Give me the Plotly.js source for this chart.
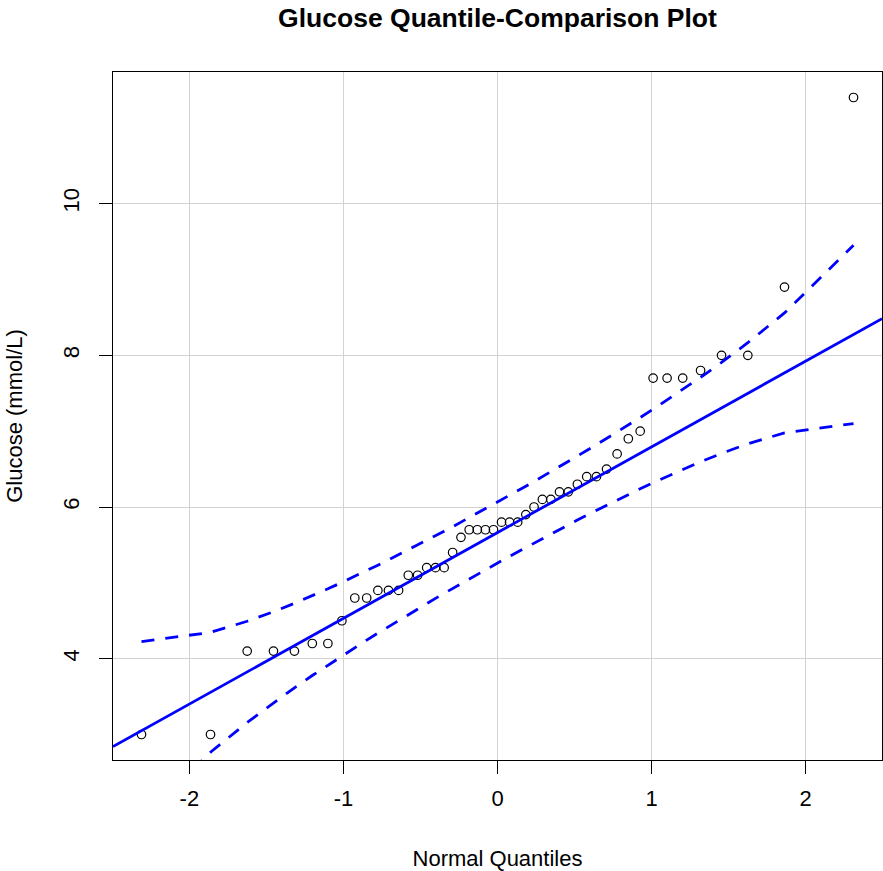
<!DOCTYPE html>
<html>
<head>
<meta charset="utf-8">
<script src="https://cdn.plot.ly/plotly-3.0.1.min.js"></script>
<style>html,body{margin:0;padding:0;background:#fff;}#chart{width:883px;height:871px;}</style>
</head>
<body>
<div id="chart"></div>
<script>
// Normal quantiles (x) and sorted glucose values (y)
const normalQuantiles = [-2.3107,-1.8627,-1.6247,-1.4541,-1.3180,-1.2021,-1.1008,-1.0100,-0.9262,-0.8490,-0.7764,-0.7077,-0.6420,-0.5791,-0.5184,-0.4595,-0.4023,-0.3463,-0.2913,-0.2371,-0.1838,-0.1309,-0.0784,-0.0261,0.0261,0.0784,0.1309,0.1838,0.2371,0.2913,0.3463,0.4023,0.4595,0.5184,0.5791,0.6420,0.7077,0.7764,0.8490,0.9262,1.0100,1.1008,1.2021,1.3180,1.4541,1.6247,1.8627,2.3107];
const glucose = [3.0,3.0,4.1,4.1,4.1,4.2,4.2,4.5,4.8,4.8,4.9,4.9,4.9,5.1,5.1,5.2,5.2,5.2,5.4,5.6,5.7,5.7,5.7,5.7,5.8,5.8,5.8,5.9,6.0,6.1,6.1,6.2,6.2,6.3,6.4,6.4,6.5,6.7,6.9,7.0,7.7,7.7,7.7,7.8,8.0,8.0,8.9,11.4];
// Confidence envelope
const envelopeUpper = [4.225,4.347,4.493,4.619,4.730,4.829,4.921,5.006,5.085,5.161,5.233,5.302,5.369,5.434,5.497,5.560,5.621,5.681,5.740,5.800,5.858,5.917,5.975,6.034,6.093,6.152,6.213,6.274,6.336,6.399,6.464,6.530,6.599,6.670,6.744,6.821,6.902,6.988,7.080,7.180,7.289,7.410,7.547,7.710,7.906,8.166,8.559,9.450];
const envelopeLower = [1.875,2.766,3.159,3.419,3.616,3.778,3.915,4.036,4.145,4.245,4.337,4.423,4.504,4.582,4.655,4.726,4.795,4.861,4.926,4.990,5.051,5.112,5.173,5.232,5.291,5.350,5.408,5.467,5.526,5.585,5.644,5.704,5.765,5.828,5.891,5.956,6.023,6.092,6.164,6.240,6.320,6.404,6.496,6.596,6.707,6.833,6.978,7.100];
// Reference line
const refLineX = [-2.4956, 2.4956];
const refLineY = [2.841, 8.484];
// Ticks
const xTicks = [-2, -1, 0, 1, 2];
const yTicks = [4, 6, 8, 10];

const FONT = 'Liberation Sans, Arial, sans-serif';
const traces = [
  {x: normalQuantiles, y: glucose, type: 'scatter', mode: 'markers',
   marker: {symbol: 'circle-open', size: 8.5, color: '#000', line: {width: 1.2, color: '#000'}}},
  {x: refLineX, y: refLineY, type: 'scatter', mode: 'lines',
   line: {color: '#0000ff', width: 2.8}},
  {x: normalQuantiles, y: envelopeUpper, type: 'scatter', mode: 'lines',
   line: {color: '#0000ff', width: 2.8, dash: '13px,11px'}},
  {x: normalQuantiles, y: envelopeLower, type: 'scatter', mode: 'lines',
   line: {color: '#0000ff', width: 2.8, dash: '13px,11px'}}
];
const layout = {
  width: 883, height: 871,
  margin: {l: 113, r: 1, t: 72, b: 111, pad: 0},
  paper_bgcolor: '#fff', plot_bgcolor: '#fff',
  showlegend: false,
  font: {family: FONT, size: 22, color: '#000'},
  title: {text: 'Glucose Quantile-Comparison Plot', x: 0.5, xref: 'paper', y: 0.98, yref: 'container', yanchor: 'middle',
          font: {family: FONT, size: 26.5, weight: 'bold', color: '#000'}},
  xaxis: {range: [-2.4956, 2.4956], tickvals: xTicks, ticktext: xTicks.map(String),
          showgrid: true, gridcolor: '#d3d3d3', gridwidth: 1, zeroline: false,
          showline: true, mirror: true, linecolor: '#000', linewidth: 1,
          ticks: 'outside', ticklen: 13, tickcolor: '#000', tickwidth: 1,
          tickfont: {family: FONT, size: 22, color: '#000'}, ticklabelstandoff: 6,
          title: {text: 'Normal Quantiles', font: {family: FONT, size: 22, color: '#000'}, standoff: 40}},
  yaxis: {range: [2.664, 11.736], tickvals: yTicks, ticktext: yTicks.map(String), tickangle: -90,
          showgrid: true, gridcolor: '#d3d3d3', gridwidth: 1, zeroline: false,
          showline: true, mirror: true, linecolor: '#000', linewidth: 1,
          ticks: 'outside', ticklen: 13, tickcolor: '#000', tickwidth: 1,
          tickfont: {family: FONT, size: 22, color: '#000'}, ticklabelstandoff: 11,
          title: {text: 'Glucose (mmol/L)', font: {family: FONT, size: 22, color: '#000'}, standoff: 30}}
};
Plotly.newPlot('chart', traces, layout, {displayModeBar: false, staticPlot: true});
</script>
</body>
</html>
